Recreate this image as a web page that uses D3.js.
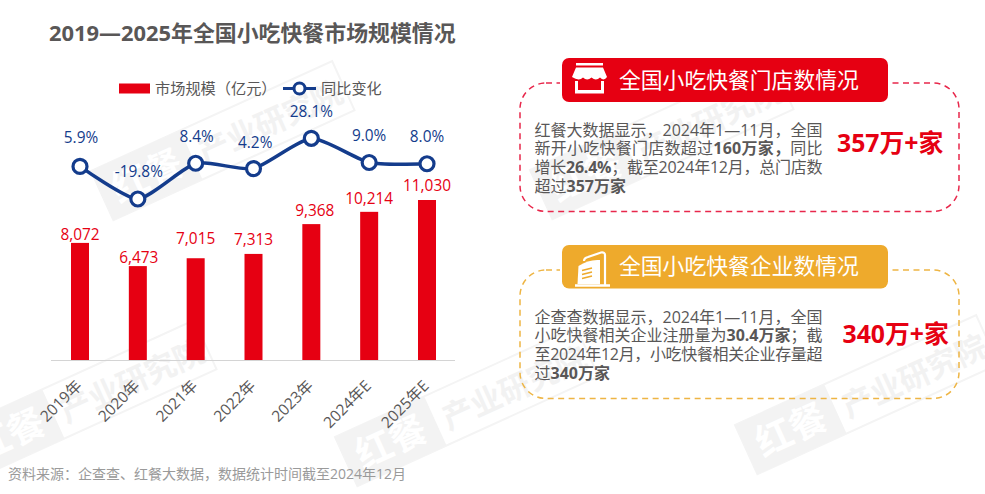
<!DOCTYPE html>
<html lang="zh"><head><meta charset="utf-8">
<script src="https://cdnjs.cloudflare.com/ajax/libs/d3/7.8.5/d3.min.js"></script>
<style>
html,body{margin:0;padding:0;background:#fff;overflow:hidden}
svg{display:block}
text{font-family:"Open Sans","Noto Sans CJK SC",sans-serif}
</style></head><body><svg id="c" width="985" height="494"></svg>
<script>
const categories=["2019年","2020年","2021年","2022年","2023年","2024年E","2025年E"];
const marketSize=[8072,6473,7015,7313,9368,10214,11030];
const yoyChange=[5.9,-19.8,8.4,4.2,28.1,9.0,8.0];
const yoyLabels=["5.9%","-19.8%","8.4%","4.2%","28.1%","9.0%","8.0%"];
const legendLabels=["市场规模（亿元）","同比变化"];
const titleText="2019—2025年全国小吃快餐市场规模情况";
const sourceText="资料来源：企查查、红餐大数据，数据统计时间截至2024年12月";
const panelRed=[[["红餐大数据显示，2024年1—11月，全国",0]],[["新开小吃快餐门店数超过",0],["160万家，",1],["同比",0]],[["增长",0],["26.4%",1],["；截至2024年12月，总门店数",0]],[["超过",0],["357万家",1]]];
const panelGold=[[["企查查数据显示，2024年1—11月，全国",0]],[["小吃快餐相关企业注册量为",0],["30.4万家",1],["；截",0]],[["至2024年12月，小吃快餐相关企业存量超",0]],[["过",0],["340万家",1]]];

const RED="#e60012",GOLD="#eeaa2c",NAVY="#143c8c",GREY="#595757";
const svg=d3.select("#c");

function watermark(x,y){
  const g=svg.append("g").attr("transform",`translate(${x},${y}) rotate(-24.5)`);
  g.append("rect").attr("width",265).attr("height",54).attr("fill","none").attr("stroke","#f4f4f4").attr("stroke-width",2);
  g.append("rect").attr("width",98).attr("height",54).attr("fill","#f3f3f3");
  g.append("text").attr("x",49).attr("y",41).attr("text-anchor","middle").attr("font-size",37).attr("font-weight",700).attr("fill","#fff").text("红餐");
  g.append("text").attr("x",106).attr("y",41).attr("font-size",31).attr("font-weight",700).attr("fill","#f2f2f2").text("产业研究院");
}
watermark(91,171);
watermark(-47,430);
watermark(530,170);
watermark(335,437);
watermark(735,425);

svg.append("text").attr("x",49).attr("y",41).attr("font-size",21.9).attr("font-weight",700).attr("fill",GREY).text(titleText);

const x=d3.scalePoint().domain(categories).range([80,427]);
const y=d3.scaleLinear().domain([0,11030]).range([360,200]);
const yL=d3.scaleLinear().domain([-19.8,28.1]).range([199,138.3]);

svg.append("line").attr("x1",51).attr("x2",455).attr("y1",360.5).attr("y2",360.5).attr("stroke","#d4d4d4").attr("stroke-width",1);

svg.selectAll(".bar").data(marketSize).join("rect").attr("class","bar")
  .attr("x",(d,i)=>x(categories[i])-9).attr("width",18)
  .attr("y",d=>y(d)).attr("height",d=>360-y(d)).attr("fill",RED);
const barDy=[-2.5,-3,-14,-9,-8,-7.5,-9];
const barDx=[0,1,0,0,3.5,0,0];
svg.selectAll(".barl").data(marketSize).join("text").attr("class","barl")
  .attr("x",(d,i)=>x(categories[i])+barDx[i]).attr("y",(d,i)=>y(d)+barDy[i])
  .attr("text-anchor","middle").attr("font-size",15.4).attr("fill",RED).text(d=>d3.format(",")(d));

svg.selectAll(".cat").data(categories).join("text").attr("class","cat")
  .attr("transform",(d,i)=>`translate(${x(d)-1},${383}) rotate(-45)`)
  .attr("text-anchor","end").attr("dy","0.35em").attr("font-size",15.5).attr("fill",GREY).text(d=>d);

const line=d3.line().x((d,i)=>x(categories[i])).y(d=>yL(d)).curve(d3.curveCardinal.tension(0.4));
svg.append("path").attr("d",line(yoyChange)).attr("fill","none").attr("stroke",NAVY).attr("stroke-width",3.5);
svg.selectAll(".pt").data(yoyChange).join("circle").attr("class","pt")
  .attr("cx",(d,i)=>x(categories[i])).attr("cy",d=>yL(d)).attr("r",7).attr("fill","#fff").attr("stroke",NAVY).attr("stroke-width",3.2);
const lblY=[142.7,176.7,141.7,147.7,116.7,141,142];
const lblDx=[1,1,1,1.7,0,0,0];
svg.selectAll(".ll").data(yoyChange).join("text").attr("class","ll")
  .attr("x",(d,i)=>x(categories[i])+lblDx[i]).attr("y",(d,i)=>lblY[i])
  .attr("text-anchor","middle").attr("font-size",15.4).attr("fill",NAVY).text((d,i)=>yoyLabels[i]);

svg.append("rect").attr("x",119).attr("y",83.5).attr("width",31).attr("height",10).attr("fill",RED);
svg.append("text").attr("x",155).attr("y",94).attr("font-size",15.2).attr("fill",GREY).text(legendLabels[0]);
svg.append("line").attr("x1",283).attr("x2",316).attr("y1",88.5).attr("y2",88.5).attr("stroke",NAVY).attr("stroke-width",3);
svg.append("circle").attr("cx",299.5).attr("cy",88.5).attr("r",5.5).attr("fill","#fff").attr("stroke",NAVY).attr("stroke-width",3);
svg.append("text").attr("x",321).attr("y",94).attr("font-size",15.2).attr("fill",GREY).text(legendLabels[1]);

svg.append("text").attr("x",8).attr("y",479).attr("font-size",14).attr("fill","#9a9a9a").text(sourceText);

function panel(top,h,color,hdrColor,head,lines,big,bigX,bigY,hdrY,hdrH,hdrBase){
  svg.append("rect").attr("x",520).attr("y",top).attr("width",439).attr("height",h).attr("rx",26)
    .attr("fill","none").attr("stroke",color).attr("stroke-width",1.5).attr("stroke-dasharray","6 4.5");
  svg.append("rect").attr("x",560).attr("y",top-3).attr("width",330).attr("height",6).attr("fill","#fff");
  svg.append("rect").attr("x",562).attr("y",hdrY).attr("width",326).attr("height",hdrH).attr("rx",7).attr("fill",hdrColor);
  svg.append("text").attr("x",619).attr("y",hdrBase).attr("font-size",21.8).attr("fill","#fff").text(head);
  lines.forEach((ln,i)=>{
    const t=svg.append("text").attr("x",534.5).attr("y",top+52.5+i*18.8).attr("font-size",16).attr("fill",GREY);
    ln.forEach(s=>t.append("tspan").attr("font-weight",s[1]?700:400).text(s[0]));
    if(i<3){ // the reference's first three lines are justified to the same right edge
      const extra=(288-t.node().getComputedTextLength())/Math.max(1,t.text().length-1);
      t.attr("letter-spacing",extra.toFixed(3));
    }
  });
  svg.append("text").attr("x",bigX).attr("y",bigY).attr("font-size",24.8).attr("font-weight",700).attr("fill",RED).text(big);
}
panel(83,128.5,"#e8274b",RED,"全国小吃快餐门店数情况",panelRed,"357万+家",837,152,58,44,88);
panel(270,128.5,"#eeb544",GOLD,"全国小吃快餐企业数情况",panelGold,"340万+家",842.5,343,245,43.5,274);

const shop=svg.append("g").attr("fill","#fff");
shop.append("rect").attr("x",576).attr("y",63).attr("width",27).attr("height",2.5);
shop.append("path").attr("d","M576 67.5H603L607 77Q604 81.5 600 77.5Q596 81.5 591.5 77.5Q587 81.5 583 77.5Q579 81.5 572 77Z");
shop.append("path").attr("d","M575 81H578V90H601V81H604V93.5H575Z");
const bld=svg.append("g");
bld.append("path").attr("d","M577.5 284L578.5 266Q589 259 600 260V284Z").attr("fill","#fff");
bld.append("path").attr("d","M584 261Q584 258 588 257L601 252.5Q605 252 605 255V285").attr("stroke","#fff").attr("stroke-width",2.2).attr("fill","none");
bld.append("path").attr("d","M575 285.5H610").attr("stroke","#fff").attr("stroke-width",2.5);
bld.append("path").attr("d","M582 270.5L592 268M582 274.5L592 272M582 278.5L592 276").attr("stroke",GOLD).attr("stroke-width",1.6);
</script></body></html>
